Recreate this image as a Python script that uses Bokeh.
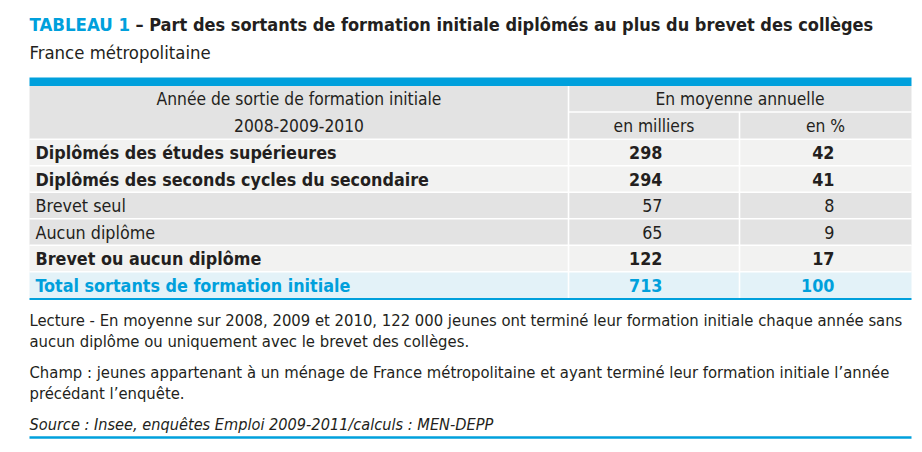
from bokeh.plotting import figure
from bokeh.models import ColumnDataSource, Range1d
from bokeh.core.properties import value
from bokeh.embed import file_html
from bokeh.resources import INLINE

# ---- data ----
title_tag = "TABLEAU 1"
title_text = "– Part des sortants de formation initiale diplômés au plus du brevet des collèges"
subtitle = "France métropolitaine"
header_left = ["Année de sortie de formation initiale", "2008-2009-2010"]
header_group = "En moyenne annuelle"
header_cols = ["en milliers", "en %"]
row_labels = [
    "Diplômés des études supérieures",
    "Diplômés des seconds cycles du secondaire",
    "Brevet seul",
    "Aucun diplôme",
    "Brevet ou aucun diplôme",
    "Total sortants de formation initiale",
]
milliers = [298, 294, 57, 65, 122, 713]
pourcent = [42, 41, 8, 9, 17, 100]
row_bold = [True, True, False, False, True, True]
row_kind = ["light", "light", "dark", "dark", "light", "total"]
notes = [
    "Lecture - En moyenne sur 2008, 2009 et 2010, 122 000 jeunes ont terminé leur formation initiale chaque année sans",
    "aucun diplôme ou uniquement avec le brevet des collèges.",
    "Champ : jeunes appartenant à un ménage de France métropolitaine et ayant terminé leur formation initiale l’année",
    "précédant l’enquête.",
]
source_note = "Source : Insee, enquêtes Emploi 2009-2011/calculs : MEN-DEPP"

# ---- style / layout ----
FONT = value("'DejaVu Sans Condensed', 'Roboto Condensed', Roboto, sans-serif")
BLUE = "#00a0dc"
INK = "#231f20"
BG = {"light": "#f2f2f1", "dark": "#e3e3e3", "total": "#e3f2f8"}
X0, X1, XC1, XC2 = 29, 911, 568, 739
Y_BAR, Y_HEAD, Y_HSPLIT, Y_DATA, ROW_H = 77, 85.5, 111.5, 138.8, 26.5
N = len(row_labels)
Y_END = Y_DATA + N * ROW_H

p = figure(width=922, height=452, output_backend="svg", toolbar_location=None,
           x_range=Range1d(0, 922), y_range=Range1d(452, 0),
           min_border=0, outline_line_color=None)
p.axis.visible = False
p.grid.visible = False
p.background_fill_color = "white"
p.border_fill_color = "white"

# header background and blue top bar
p.quad(left=[X0], right=[X1], top=[Y_HEAD], bottom=[Y_DATA], fill_color="#e3e3e3", line_color=None)
p.quad(left=[X0], right=[X1], top=[Y_BAR], bottom=[Y_HEAD], fill_color=BLUE, line_color=None)

# row backgrounds
tops = [Y_DATA + i * ROW_H for i in range(N)]
rows = ColumnDataSource(dict(
    top=tops, bottom=[t + ROW_H for t in tops], ymid=[t + ROW_H / 2 for t in tops],
    label=row_labels, mil=[str(v) for v in milliers], pct=[str(v) for v in pourcent],
    style=["bold" if b else "normal" for b in row_bold],
    fill=[BG[k] for k in row_kind],
    color=[BLUE if k == "total" else INK for k in row_kind],
))
p.quad(left=X0, right=X1, top="top", bottom="bottom", fill_color="fill", line_color=None, source=rows)

# white separators
p.segment(x0=[X0] * N, x1=[X1] * N, y0=tops, y1=tops, line_color="white", line_width=1.6)
p.segment(x0=[XC1, XC2, XC1], x1=[XC1, XC2, X1], y0=[Y_HEAD, Y_HSPLIT, Y_HSPLIT],
          y1=[Y_END, Y_END, Y_HSPLIT], line_color="white", line_width=1.6)
# blue bottom rule
p.segment(x0=[X0], x1=[X1], y0=[Y_END + 0.8], y1=[Y_END + 0.8], line_color=BLUE, line_width=2)

# title & subtitle
p.text(x=[X0], y=[23.5], text=[title_tag], text_font=FONT, text_font_size="18.5px",
       text_font_style="bold", text_color=BLUE, text_baseline="middle", text_align="left")
p.text(x=[135], y=[23.5], text=[title_text], text_font=FONT, text_font_size="18px",
       text_font_style="bold", text_color=INK, text_baseline="middle", text_align="left")
p.text(x=[X0], y=[52], text=[subtitle], text_font=FONT, text_font_size="18.4px",
       text_color=INK, text_baseline="middle", text_align="left")

# header texts
hc = (X0 + XC1) / 2
p.text(x=[hc, hc], y=[98.5, 125], text=header_left, text_font=FONT, text_font_size="17.3px",
       text_color=INK, text_baseline="middle", text_align="center")
p.text(x=[(XC1 + X1) / 2, (XC1 + XC2) / 2, (XC2 + X1) / 2], y=[98.5, 125, 125],
       text=[header_group] + header_cols, text_font=FONT, text_font_size="17.3px",
       text_color=INK, text_baseline="middle", text_align="center")

# row texts
p.text(x=35, y="ymid", text="label", text_font=FONT, text_font_size="17.8px",
       text_font_style="style", text_color="color", text_baseline="middle", text_align="left", source=rows)
p.text(x=662, y="ymid", text="mil", text_font=FONT, text_font_size="17.8px",
       text_font_style="style", text_color="color", text_baseline="middle", text_align="right", source=rows)
p.text(x=834, y="ymid", text="pct", text_font=FONT, text_font_size="17.8px",
       text_font_style="style", text_color="color", text_baseline="middle", text_align="right", source=rows)

# notes
p.text(x=[X0] * 4, y=[319.5, 340.5, 372, 393], text=notes, text_font=FONT, text_font_size="16.5px",
       text_color=INK, text_baseline="middle", text_align="left")
p.text(x=[X0], y=[424], text=[source_note], text_font=FONT, text_font_size="16.2px",
       text_font_style="italic", text_color=INK, text_baseline="middle", text_align="left")
p.segment(x0=[X0], x1=[X1], y0=[437], y1=[437], line_color=BLUE, line_width=2.5)

open("out.html", "w").write(file_html(p, INLINE))
